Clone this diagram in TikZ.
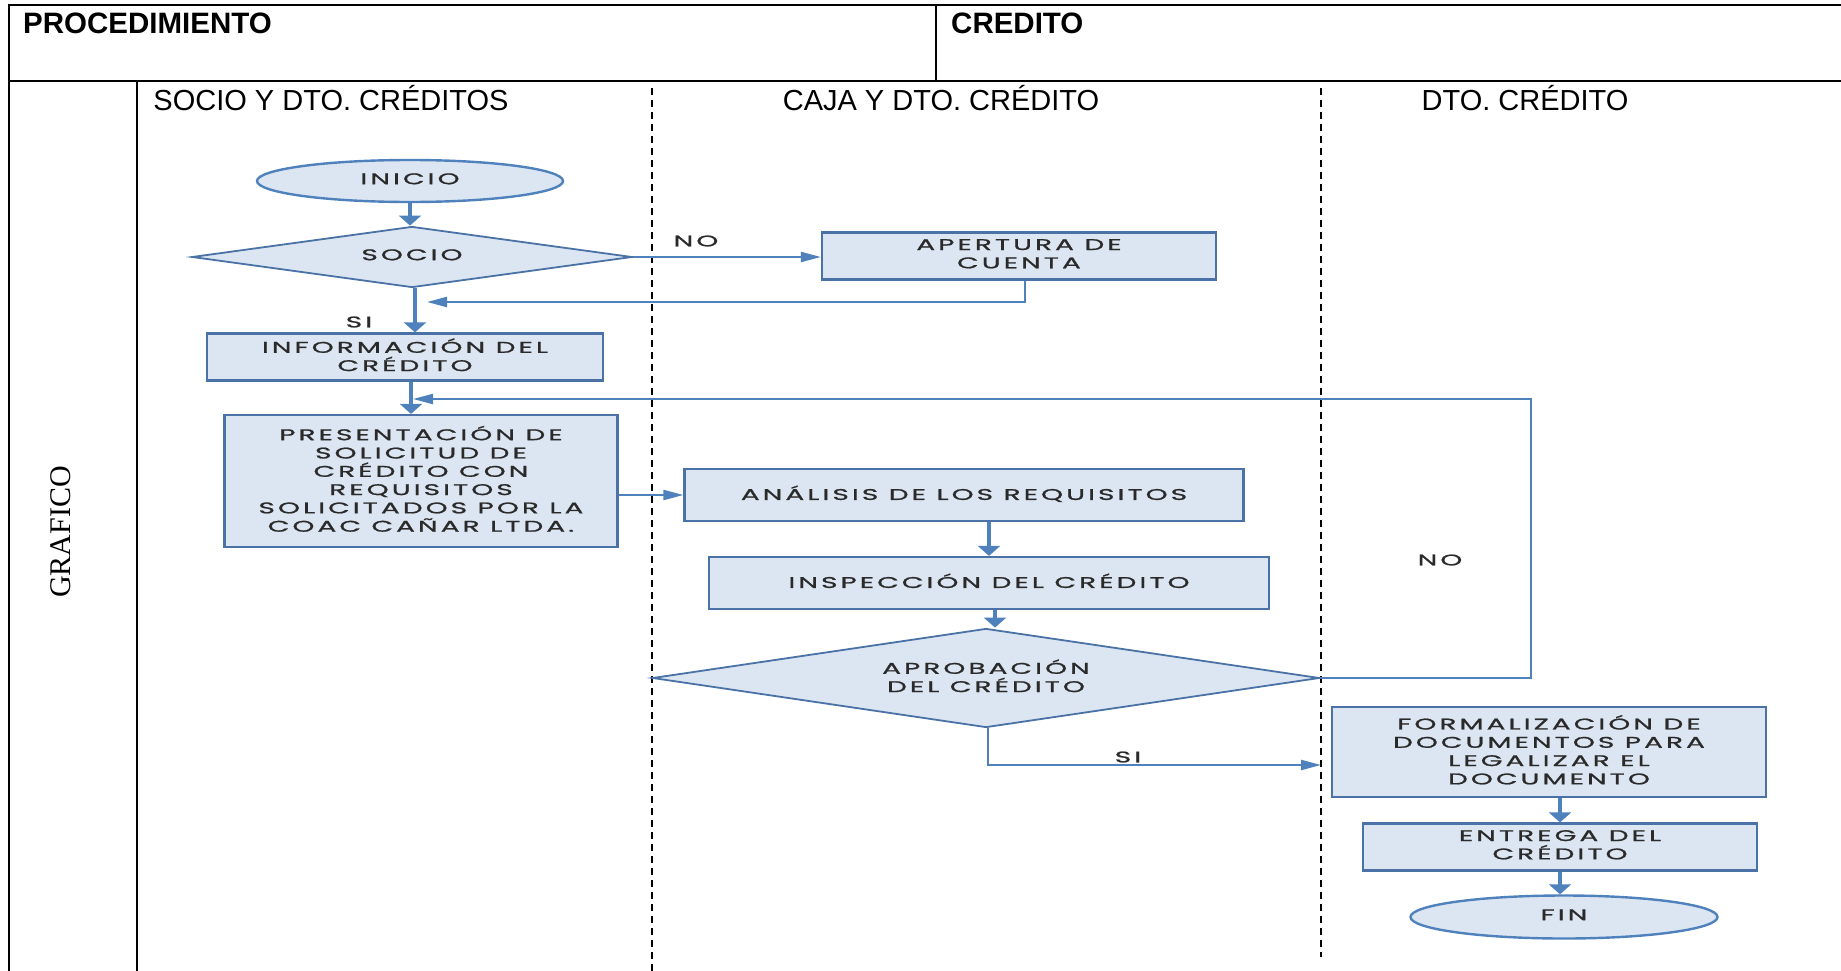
\documentclass[tikz,border=0pt]{standalone}
\usepackage{fontspec}
\setmainfont{Liberation Sans}
\newfontfamily\grafsf{Liberation Serif}
\newfontfamily\boxfont[FakeStretch=1.8,LetterSpace=20,FakeBold=1.2]{Poppins}
\usetikzlibrary{arrows.meta,shapes.geometric}
\definecolor{boxfill}{HTML}{DCE6F2}
\definecolor{boxline}{HTML}{4A72A6}
\definecolor{flow}{HTML}{4F81BD}
\definecolor{boxtext}{HTML}{2A2A2A}
\begin{document}
\begin{tikzpicture}[x=1pt,y=-1pt,
  tableline/.style={draw=black, line width=2.4pt},
  lanesep/.style={draw=black, line width=1.5pt, dash pattern=on 7pt off 5pt},
  boxtxt/.style={text=boxtext, font=\boxfont\fontsize{15.5}{18.3}\selectfont, align=center},
  proc/.style={boxtxt, text depth=4.5pt, draw=boxline, line width=2.2pt, fill=boxfill, rectangle, inner sep=0pt},
  decis/.style={boxtxt, text depth=4.5pt, draw=boxline, line width=1.8pt, fill=boxfill, diamond, inner sep=0pt},
  term/.style={boxtxt, text depth=4.5pt, draw=flow, line width=2.4pt, fill=boxfill, ellipse, inner sep=0pt},
  lbl/.style={boxtxt, inner sep=0pt},
  thickflow/.style={draw=flow, line width=3.5pt, -{Triangle[width=22pt,length=10pt]}},
  thinflow/.style={draw=flow, line width=2.2pt, -{Triangle[width=10pt,length=20pt]}}
]
\useasboundingbox (0,0) rectangle (1841,971);

% table frame
\draw[tableline] (9,5) -- (1841,5);
\draw[tableline] (9,81) -- (1841,81);
\draw[tableline] (9,4) -- (9,971);
\draw[tableline] (936,5) -- (936,81);
\draw[tableline] (137,81) -- (137,971);

% swimlane separators
\draw[lanesep] (652,88) -- (652,971);
\draw[lanesep] (1321,88) -- (1321,957);

% header texts
\node[anchor=west, inner sep=0pt, font=\bfseries\fontsize{29.5}{34}\selectfont] (hproc) at (23,23) {PROCEDIMIENTO};
\node[anchor=west, inner sep=0pt, font=\bfseries\fontsize{29.5}{34}\selectfont] (hcred) at (951,23) {CREDITO};
\node[inner sep=0pt, font=\fontsize{29}{34}\selectfont] (lane1) at (331,98) {SOCIO Y DTO. CRÉDITOS};
\node[inner sep=0pt, font=\fontsize{29}{34}\selectfont] (lane2) at (941,98) {CAJA Y DTO. CRÉDITO};
\node[inner sep=0pt, font=\fontsize{29}{34}\selectfont] (lane3) at (1525,98) {DTO. CRÉDITO};
\node[rotate=90, inner sep=0pt, font=\grafsf\fontsize{30}{34}\selectfont] (graf) at (61,532) {GRAFICO};

% flow nodes
\node[term, minimum width=306pt, minimum height=42pt] (inicio) at (410,181) {INICIO};
\node[decis, shape aspect=7.2, minimum width=440pt, minimum height=61pt] (socio) at (412,257) {SOCIO};
\node[proc, minimum width=394pt, minimum height=47pt] (apertura) at (1019,256) {APERTURA DE\\CUENTA};
\node[proc, minimum width=396pt, minimum height=47pt] (info) at (405,357) {INFORMACIÓN DEL\\CRÉDITO};
\node[proc, minimum width=393pt, minimum height=132pt] (pres) at (421,481) {PRESENTACIÓN DE\\SOLICITUD DE\\CRÉDITO CON\\REQUISITOS\\SOLICITADOS POR LA\\COAC CAÑAR LTDA.};
\node[proc, minimum width=559pt, minimum height=52pt] (analisis) at (964,495) {ANÁLISIS DE LOS REQUISITOS};
\node[proc, minimum width=560pt, minimum height=52pt] (insp) at (989,583) {INSPECCIÓN DEL CRÉDITO};
\node[decis, shape aspect=6.7, minimum width=667pt, minimum height=99pt] (aprob) at (986,678) {APROBACIÓN\\DEL CRÉDITO};
\node[proc, minimum width=434pt, minimum height=90pt] (form) at (1549,752) {FORMALIZACIÓN DE\\DOCUMENTOS PARA\\LEGALIZAR EL\\DOCUMENTO};
\node[proc, minimum width=394pt, minimum height=47pt] (entrega) at (1560,847) {ENTREGA DEL\\CRÉDITO};
\node[term, minimum width=307pt, minimum height=43pt] (fin) at (1564,917) {FIN};

% branch labels
\node[lbl] (noA) at (696,241) {NO};
\node[lbl] (siA) at (359,322) {SI};
\node[lbl] (noB) at (1440,560) {NO};
\node[lbl] (siB) at (1128,757) {SI};

% loose ends of the return lines
\coordinate (retA) at (427,302);
\coordinate (retB) at (413,399);
\coordinate (loopR) at (1531,399);
\coordinate (siEnd) at (1321,765);

% connectors
\draw[thickflow] (inicio.south) -- (inicio.south |- socio.north);
\draw[thickflow] ([xshift=3pt]socio.south) -- ([xshift=3pt]socio.south |- info.north);
\draw[thinflow] (socio.east) -- (socio.east -| apertura.west);
\draw[thinflow] ([xshift=6pt]apertura.south) |- (retA);
\draw[thickflow] ([xshift=6pt]info.south) -- ([xshift=6pt]info.south |- pres.north);
\draw[thinflow] (aprob.east) -| (loopR) -- (retB);
\draw[thinflow] (analisis.west -| pres.east) -- (analisis.west);
\draw[thickflow] (insp.north |- analisis.south) -- (insp.north);
\draw[thickflow] ([xshift=6pt]insp.south) -- ([xshift=6pt]insp.south |- aprob.north);
\draw[thinflow] ([xshift=2pt]aprob.south) |- (siEnd);
\draw[thickflow] (entrega.north |- form.south) -- (entrega.north);
\draw[thickflow] (entrega.south) -- (entrega.south |- fin.north);
\end{tikzpicture}
\end{document}
